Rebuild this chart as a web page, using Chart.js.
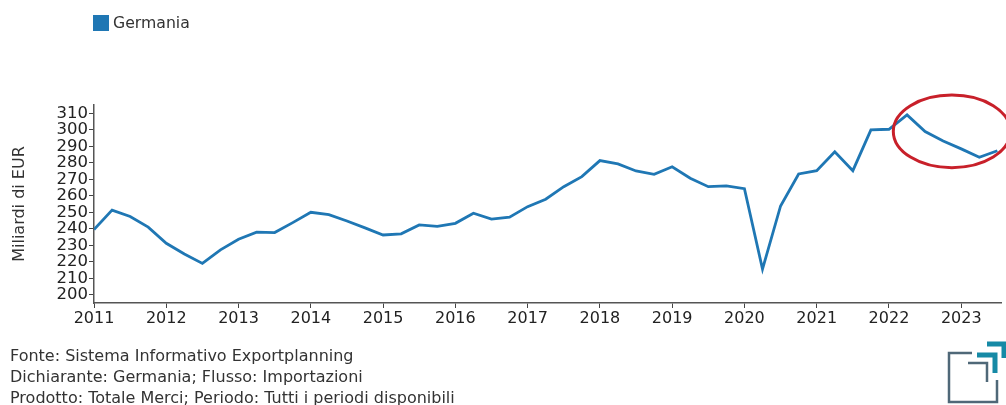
<!DOCTYPE html>
<html>
<head>
<meta charset="utf-8">
<script src="https://cdn.jsdelivr.net/npm/chart.js@4.4.1/dist/chart.umd.min.js"></script>
<style>
    body { margin: 0; background: #fff; font-family: "DejaVu Sans", sans-serif; }
    #box { position: relative; width: 1006px; height: 405px; overflow: hidden; }
    #legenda { position: absolute; left: 93px; top: 14px; font-size: 15.7px; color: #333; line-height: 18px; }
    #legenda span.q { display: inline-block; width: 16px; height: 16px; background: #1f77b4; vertical-align: -3px; margin-right: 4px; }
    #fonte { position: absolute; left: 10px; top: 345px; font-size: 16px; color: #333; line-height: 21px; }
    #logo { position: absolute; left: 940px; top: 335px; }
</style>
</head>
<body>
<div id="box">
    <canvas id="myChartImport"></canvas>
    <div id="legenda"><span class="q"></span>Germania</div>
    <div id="fonte">
        Fonte: Sistema Informativo Exportplanning<br>
        Dichiarante: Germania; Flusso: Importazioni<br>
        Prodotto: Totale Merci; Periodo: Tutti i periodi disponibili
    </div>
    <svg id="logo" width="70" height="72" viewBox="940 335 70 72">
        <polyline points="972,353 949,353 949,402 997,402 997,380" fill="none" stroke="#4f6878" stroke-width="2.5"/>
        <polyline points="968,363 987,363 987,382" fill="none" stroke="#4f6878" stroke-width="2.5"/>
        <polyline points="977,355 995,355 995,373" fill="none" stroke="#168aa6" stroke-width="5"/>
        <polyline points="987,344 1004,344 1004,358" fill="none" stroke="#168aa6" stroke-width="5"/>
    </svg>
</div>
<script>
// trimestri (anno + trimestre) e valori importazioni, miliardi di EUR
var trimestri = [
    '2011T1', '2011T2', '2011T3', '2011T4',
    '2012T1', '2012T2', '2012T3', '2012T4',
    '2013T1', '2013T2', '2013T3', '2013T4',
    '2014T1', '2014T2', '2014T3', '2014T4',
    '2015T1', '2015T2', '2015T3', '2015T4',
    '2016T1', '2016T2', '2016T3', '2016T4',
    '2017T1', '2017T2', '2017T3', '2017T4',
    '2018T1', '2018T2', '2018T3', '2018T4',
    '2019T1', '2019T2', '2019T3', '2019T4',
    '2020T1', '2020T2', '2020T3', '2020T4',
    '2021T1', '2021T2', '2021T3', '2021T4',
    '2022T1', '2022T2', '2022T3', '2022T4',
    '2023T1', '2023T2', '2023T3'
];
var germania = [
    239.5, 251.3, 247.4, 241.0,
    231.2, 224.7, 219.0, 227.2,
    233.6, 237.9, 237.7, 243.7,
    250.0, 248.6, 244.7, 240.5,
    236.2, 236.9, 242.3, 241.5,
    243.3, 249.4, 245.8, 247.0,
    253.4, 257.9, 265.5, 271.6,
    281.3, 279.3, 275.0, 273.0,
    277.6, 270.6, 265.5, 266.0,
    264.3, 215.5, 253.8, 273.2,
    275.2, 286.7, 275.2, 299.9,
    300.3, 309.0, 298.9, 293.2,
    288.4, 283.3, 287.3
];
var tickAnni = [2011, 2012, 2013, 2014, 2015, 2016, 2017, 2018, 2019, 2020, 2021, 2022, 2023];
var tickValori = [200, 210, 220, 230, 240, 250, 260, 270, 280, 290, 300, 310];

// ellisse rossa di evidenza, in unita' dei dati
var evidenza = { x: 2022.87, y: 299, rx: 0.81, ry: 22 };

var toX = (t) => parseInt(t.slice(0, 4)) + (parseInt(t.slice(5)) - 1) / 4;

var ellissePlugin = {
    id: 'ellisse',
    afterDatasetsDraw: function (chart) {
        var sx = chart.scales.x, sy = chart.scales.y, ctx = chart.ctx;
        var cx = sx.getPixelForValue(evidenza.x);
        var cy = sy.getPixelForValue(evidenza.y);
        var rx = sx.getPixelForValue(evidenza.x + evidenza.rx) - cx;
        var ry = cy - sy.getPixelForValue(evidenza.y + evidenza.ry);
        ctx.save();
        ctx.beginPath();
        ctx.ellipse(cx, cy, rx, ry, 0, 0, Math.PI * 2);
        ctx.strokeStyle = '#c8202a';
        ctx.lineWidth = 3;
        ctx.stroke();
        ctx.restore();
    }
};

var ctx = document.getElementById('myChartImport').getContext('2d');

new Chart(ctx, {
    type: 'line',
    data: {
        datasets: [{
            label: 'Germania',
            data: trimestri.map((t, i) => ({ x: toX(t), y: germania[i] })),
            borderColor: '#1f77b4',
            backgroundColor: '#1f77b4',
            borderWidth: 2.8,
            pointRadius: 0,
            tension: 0
        }]
    },
    options: {
        responsive: true,
        maintainAspectRatio: false,
        animation: false,
        layout: {
            padding: { left: 0, right: 5, top: 105, bottom: 0 }
        },
        plugins: {
            legend: { display: false },
            tooltip: { enabled: false }
        },
        scales: {
            x: {
                type: 'linear',
                min: 2011,
                max: 2023.55,
                afterFit: function (scale) { scale.height = 102; },
                afterBuildTicks: function (scale) {
                    scale.ticks = tickAnni.map(v => ({ value: v }));
                },
                ticks: {
                    color: '#222',
                    font: { family: 'DejaVu Sans', size: 16 },
                    padding: 1,
                    maxRotation: 0,
                    autoSkip: false,
                    callback: (v) => String(v)
                },
                grid: { drawOnChartArea: false, tickLength: 5, tickColor: '#444' },
                border: { display: true, color: '#555', width: 1.5 }
            },
            y: {
                min: 195,
                max: 315,
                afterFit: function (scale) { scale.width = 94; },
                afterBuildTicks: function (scale) {
                    scale.ticks = tickValori.map(v => ({ value: v }));
                },
                ticks: {
                    color: '#222',
                    font: { family: 'DejaVu Sans', size: 16.5 },
                    padding: 1,
                    autoSkip: false
                },
                title: {
                    display: true,
                    text: 'Miliardi di EUR',
                    color: '#333',
                    font: { family: 'DejaVu Sans', size: 16 },
                    padding: { top: 10, bottom: 0 }
                },
                grid: { drawOnChartArea: false, tickLength: 5, tickColor: '#444' },
                border: { display: true, color: '#555', width: 1.5 }
            }
        }
    },
    plugins: [ellissePlugin]
});
</script>
</body>
</html>
